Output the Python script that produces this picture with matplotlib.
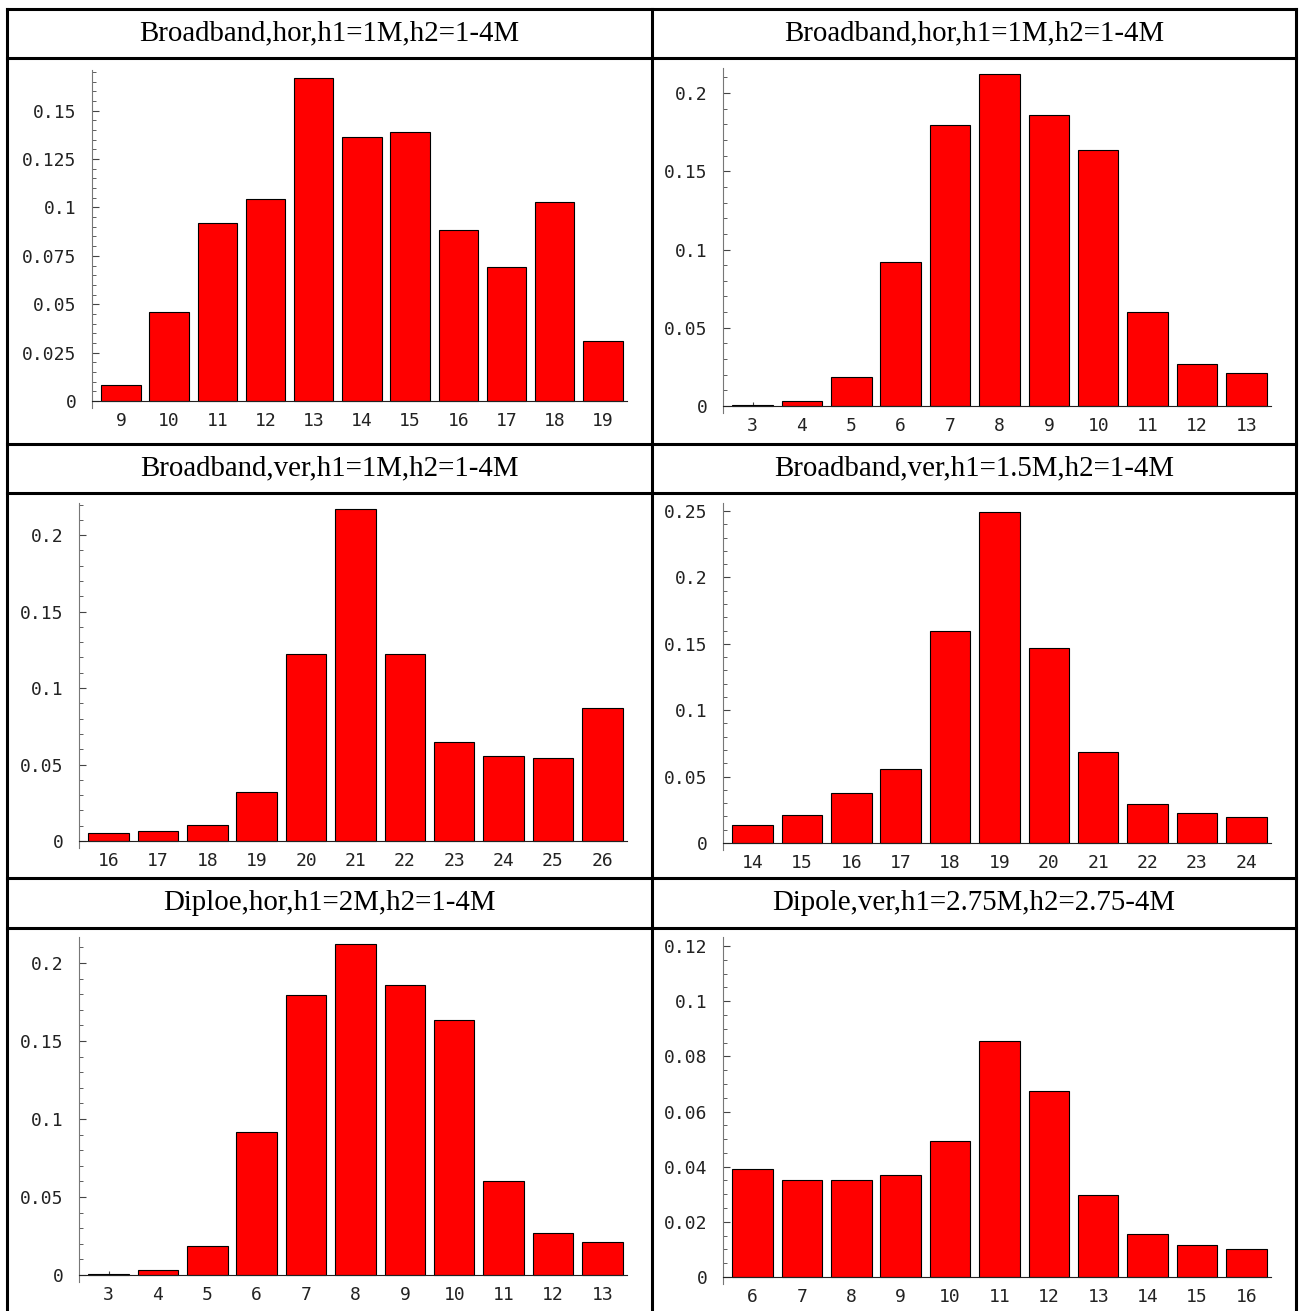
"""
Six bar charts of height distributions, laid out in a 2x3 table.
"""
import numpy as np
import matplotlib
matplotlib.use('Agg')
import matplotlib.pyplot as plt
from matplotlib.lines import Line2D
from matplotlib.ticker import MultipleLocator, FuncFormatter

W, H = 1299, 1311    # figure size in pixels (dpi 100)

# --- data ---
title_bh1 = 'Broadband,hor,h1=1M,h2=1-4M'
labels_bh1 = [9, 10, 11, 12, 13, 14, 15, 16, 17, 18, 19]
vals_bh1 = [0.0083, 0.046, 0.0921, 0.1046, 0.167, 0.1366, 0.1392, 0.0885, 0.0694, 0.103, 0.031]

title_bh2 = 'Broadband,hor,h1=1M,h2=1-4M'
labels_bh2 = [3, 4, 5, 6, 7, 8, 9, 10, 11, 12, 13]
vals_bh2 = [0.0005, 0.003, 0.0185, 0.092, 0.1796, 0.212, 0.186, 0.1636, 0.060, 0.0268, 0.0211]

title_bv1 = 'Broadband,ver,h1=1M,h2=1-4M'
labels_bv1 = [16, 17, 18, 19, 20, 21, 22, 23, 24, 25, 26]
vals_bv1 = [0.0052, 0.0065, 0.0105, 0.032, 0.122, 0.217, 0.122, 0.065, 0.0556, 0.054, 0.087]

title_bv2 = 'Broadband,ver,h1=1.5M,h2=1-4M'
labels_bv2 = [14, 15, 16, 17, 18, 19, 20, 21, 22, 23, 24]
vals_bv2 = [0.0136, 0.0211, 0.0377, 0.0557, 0.1596, 0.249, 0.1468, 0.0685, 0.0294, 0.0226, 0.0196]

title_dh = 'Diploe,hor,h1=2M,h2=1-4M'
labels_dh = [3, 4, 5, 6, 7, 8, 9, 10, 11, 12, 13]
vals_dh = [0.0005, 0.003, 0.0185, 0.092, 0.1796, 0.212, 0.186, 0.1636, 0.060, 0.0268, 0.0211]

title_dv = 'Dipole,ver,h1=2.75M,h2=2.75-4M'
labels_dv = [6, 7, 8, 9, 10, 11, 12, 13, 14, 15, 16]
vals_dv = [0.0392, 0.0352, 0.0352, 0.037, 0.0493, 0.0856, 0.0674, 0.0297, 0.0156, 0.0116, 0.0102]

# panel layout: (title, labels, values, major, minor, ymax, left px, right px, top px, zero px)
panels = [
    (title_bh1, labels_bh1, vals_bh1, 0.025, 0.005, 0.171, 92, 627, 70, 401),
    (title_bh2, labels_bh2, vals_bh2, 0.05, 0.01, 0.216, 723, 1271, 68, 406),
    (title_bv1, labels_bv1, vals_bv1, 0.05, 0.01, 0.221, 79, 627, 503, 841),
    (title_bv2, labels_bv2, vals_bv2, 0.05, 0.01, 0.256, 723, 1271, 503, 843),
    (title_dh, labels_dh, vals_dh, 0.05, 0.01, 0.2167, 79, 627, 937, 1275),
    (title_dv, labels_dv, vals_dv, 0.02, 0.005, 0.1233, 723, 1271, 937, 1277),
]
col_x = [(7 + 652) / 2, (652 + 1296) / 2]
title_y = [(9 + 58) / 2, (444 + 493) / 2, (878 + 928) / 2]

fig = plt.figure(figsize=(W / 100, H / 100), dpi=100)
fig.patch.set_facecolor('white')

below = 7    # px the y axis runs below zero
for i, (title, labels, vals, major, minor, ymax, lp, rp, tp, zp) in enumerate(panels):
    bp = zp + below
    ax = fig.add_axes([lp / W, 1 - bp / H, (rp - lp) / W, (bp - tp) / H])
    ppu = (zp - tp) / ymax
    x = np.arange(1, len(vals) + 1)
    ax.bar(x, vals, width=0.82, color='#ff0000', edgecolor='black', linewidth=0.8, zorder=2)
    ax.set_xlim(0.4, 11.5)
    ax.set_ylim(-below / ppu, ymax)
    ax.spines[['top', 'right']].set_visible(False)
    ax.spines['bottom'].set_position(('data', 0))
    ax.spines['bottom'].set_color('#222222')
    ax.spines['left'].set_color('#777777')
    ax.set_xticks(x, [str(v) for v in labels])
    ax.tick_params(axis='x', direction='in', length=3, width=0.8, pad=8, color='#444444')
    ax.yaxis.set_major_locator(MultipleLocator(major))
    ax.yaxis.set_minor_locator(MultipleLocator(minor))
    ax.yaxis.set_major_formatter(FuncFormatter(lambda v, p: '%g' % round(v, 4)))
    ax.tick_params(axis='y', which='major', direction='in', length=5, width=0.8, pad=11, color='#444444')
    ax.tick_params(axis='y', which='minor', direction='in', length=3, width=0.6, color='#444444')
    for lab in ax.get_xticklabels() + ax.get_yticklabels():
        lab.set_fontfamily('DejaVu Sans Mono')
        lab.set_fontsize(13)
        lab.set_color('#222222')
    fig.text(col_x[i % 2] / W, 1 - title_y[i // 2] / H, title, ha='center', va='center',
             fontfamily='Liberation Serif', fontsize=20.8)

# table frame
lw = 2.2
def hline(y, x0=7, x1=1296):
    fig.add_artist(Line2D([x0 / W, x1 / W], [1 - y / H, 1 - y / H], color='black', lw=lw))
def vline(x, y0=9, y1=H):
    fig.add_artist(Line2D([x / W, x / W], [1 - y0 / H, 1 - y1 / H], color='black', lw=lw))
for y in [9, 58, 444, 493, 878, 928]:
    hline(y)
for x in [7, 652, 1296]:
    vline(x)

fig.savefig('out.png', dpi=100, facecolor='white')
